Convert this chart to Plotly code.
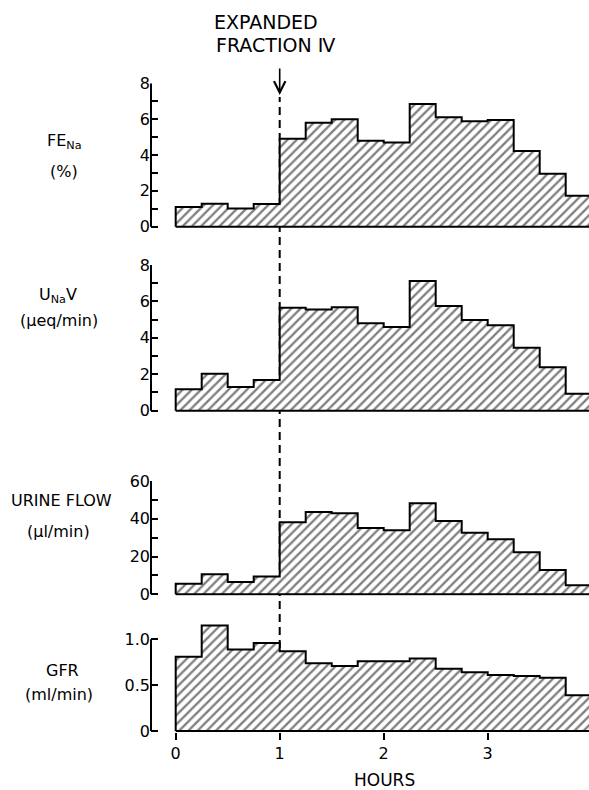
import plotly.graph_objects as go

# ---- data ----
bin_edges = [0, 0.25, 0.5, 0.75, 1.0, 1.25, 1.5, 1.75, 2.0, 2.25, 2.5, 2.75,
             3.0, 3.25, 3.5, 3.75, 4.0]
fe_na = [1.1, 1.28, 1.02, 1.27, 4.9, 5.8, 6.0, 4.8, 4.7, 6.85, 6.1, 5.88, 5.95, 4.22, 2.95, 1.73]
u_na_v = [1.17, 2.03, 1.3, 1.68, 5.65, 5.55, 5.68, 4.8, 4.6, 7.12, 5.75, 4.98, 4.69, 3.46, 2.38, 0.93]
urine_flow = [5.6, 10.6, 6.5, 9.4, 38.1, 43.6, 42.9, 35.1, 33.9, 48.2, 38.8, 32.6, 29.1, 22.2, 12.9, 4.8]
gfr = [0.81, 1.15, 0.89, 0.96, 0.87, 0.74, 0.71, 0.76, 0.76, 0.79, 0.68, 0.64, 0.61, 0.60, 0.58, 0.39]

x_ticks = [0, 1, 2, 3, 4]
x_tick_text = ["0", "1", "2", "3", "4"]
infusion_hour = 1.0

panel_labels = [("FE<sub>Na</sub>", "(%)"),
                ("U<sub>Na</sub>V", "(\u03bceq/min)"),
                ("URINE FLOW", "(\u03bcl/min)"),
                ("GFR", "(ml/min)")]
y_tickvals = [[0, 1, 2, 3, 4, 5, 6, 7, 8],
              [0, 1, 2, 3, 4, 5, 6, 7, 8],
              [0, 10, 20, 30, 40, 50, 60],
              [0, 0.5, 1.0]]
y_ticktext = [["0", " ", "2", " ", "4", " ", "6", " ", "8"],
              ["0", " ", "2", " ", "4", " ", "6", " ", "8"],
              ["0", " ", "20", " ", "40", " ", "60"],
              ["0", "0.5", "1.0"]]
series = [fe_na, u_na_v, urine_flow, gfr]

# ---- layout geometry (pixels) ----
W, H = 589, 790
FONT = "DejaVu Sans"
axis_px = 151
x_range = [-0.2375, 3.974]
# (range_lo, range_hi, px of range_hi, px of range_lo, axis top value)
panels = [(-0.1, 8.0, 83.3, 228.5, 8),
          (-0.1, 8.0, 265.0, 412.5, 8),
          (-0.8, 60.0, 481.0, 595.8, 60),
          (-0.012, 1.2, 621.0, 732.1, 1.0)]
label_pos = [((64, 141), (64, 171.5)),
             ((58, 295), (59, 321)),
             ((61, 500), (58, 531)),
             ((62, 670), (59, 694))]


def px_y(p):
    return 1 - p / H


fig = go.Figure()
layout = dict(width=W, height=H, margin=dict(l=0, r=0, t=0, b=0, autoexpand=False),
              paper_bgcolor="white", plot_bgcolor="rgba(0,0,0,0)",
              showlegend=False, font=dict(family=FONT, size=16, color="black"))
shapes = []
annotations = []

for i, vals in enumerate(series):
    n = i + 1
    sfx = "" if n == 1 else str(n)
    xs = [bin_edges[0]]
    ys = [0]
    for k, v in enumerate(vals):
        xs += [bin_edges[k], bin_edges[k + 1]]
        ys += [v, v]
    xs += [bin_edges[-1], bin_edges[0]]
    ys += [0, 0]
    fig.add_trace(go.Scatter(
        x=xs, y=ys, mode="lines", fill="toself", fillcolor="white",
        fillpattern=dict(shape="/", fgcolor="black", bgcolor="white", size=6.5, solidity=0.36),
        line=dict(color="black", width=2), xaxis="x" + sfx, yaxis="y" + sfx,
        hoverinfo="skip"))
    lo, hi, ptop, pbot, top = panels[i]
    layout["xaxis" + sfx] = dict(
        domain=[axis_px / W, 1], range=x_range, anchor="y" + sfx, automargin=False,
        showgrid=False, zeroline=False, showline=False,
        ticks="outside" if n == 4 else "", showticklabels=(n == 4),
        tickvals=x_ticks, ticktext=x_tick_text, ticklen=7, tickwidth=2,
        tickcolor="black", tickfont=dict(size=16),
        matches=None if n == 1 else "x")
    layout["yaxis" + sfx] = dict(
        domain=[px_y(pbot), px_y(ptop)], range=[lo, hi], anchor="x" + sfx, automargin=False,
        showgrid=False, zeroline=False, showline=False,
        ticks="inside", ticklen=7, tickwidth=2, tickcolor="black",
        tickvals=y_tickvals[i], ticktext=y_ticktext[i], tickfont=dict(size=16))
    shapes.append(dict(type="line", xref="x" + sfx + " domain", yref="y" + sfx,
                       x0=0, x1=0, y0=0, y1=top,
                       line=dict(color="black", width=2)))
    (l1x, l1y), (l2x, l2y) = label_pos[i]
    t1, t2 = panel_labels[i]
    annotations.append(dict(text=t1, x=l1x / W, y=px_y(l1y), xref="paper", yref="paper",
                            showarrow=False, xanchor="center", yanchor="middle",
                            font=dict(size=16)))
    annotations.append(dict(text=t2, x=l2x / W, y=px_y(l2y), xref="paper", yref="paper",
                            showarrow=False, xanchor="center", yanchor="middle",
                            font=dict(size=16)))

# dashed marker line at start of infusion (drawn below the bars)
shapes.append(dict(type="line", xref="x", yref="paper", x0=infusion_hour, x1=infusion_hour,
                   y0=px_y(700), y1=px_y(97), layer="below",
                   line=dict(color="black", width=2, dash="8px,5px")))
fig.update_layout(**layout)

annotations.append(dict(text="", x=infusion_hour, xref="x", y=px_y(95), yref="paper",
                        ax=0, ay=-28, showarrow=True, arrowhead=5, arrowsize=1.4,
                        arrowwidth=1.6, arrowcolor="black"))
annotations.append(dict(text="EXPANDED", x=266 / W, y=px_y(22), xref="paper", yref="paper",
                        showarrow=False, xanchor="center", yanchor="middle",
                        font=dict(size=19)))
annotations.append(dict(text="FRACTION \u2163", x=276 / W, y=px_y(45.5), xref="paper",
                        yref="paper", showarrow=False, xanchor="center", yanchor="middle",
                        font=dict(size=19)))
annotations.append(dict(text="HOURS", x=384 / W, y=px_y(780), xref="paper", yref="paper",
                        showarrow=False, xanchor="center", yanchor="middle",
                        font=dict(size=17)))

fig.update_layout(shapes=shapes, annotations=annotations)
post = ("document.documentElement.style.margin='0';"
        "document.body.style.margin='0';document.body.style.overflow='hidden';"
        "var d=document.getElementById('{plot_id}');"
        "d.style.position='fixed';d.style.top='0px';d.style.left='0px';")
fig.write_html("out.html", config={"displayModeBar": False}, post_script=post)
